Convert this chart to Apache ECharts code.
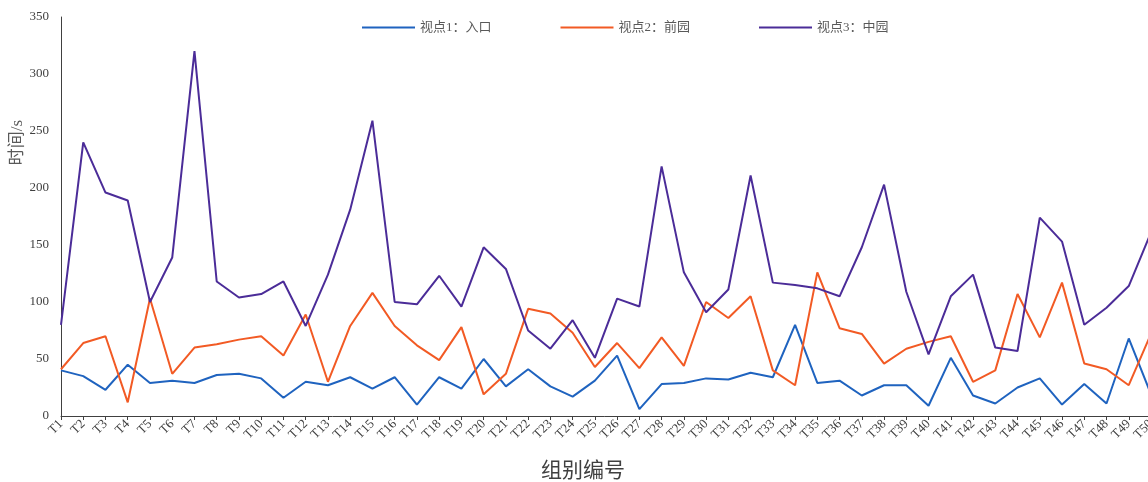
<!DOCTYPE html>
<html>
<head>
<meta charset="utf-8">
<script src="https://cdn.jsdelivr.net/npm/echarts@6/dist/echarts.min.js"></script>
<style>
  html, body { margin: 0; padding: 0; background: #fff; }
  #main { width: 1148px; height: 482px; }
</style>
</head>
<body>
<div id="main"></div>
<script>
// 组别 T1..T50
const groups = ['T1','T2','T3','T4','T5','T6','T7','T8','T9','T10',
  'T11','T12','T13','T14','T15','T16','T17','T18','T19','T20',
  'T21','T22','T23','T24','T25','T26','T27','T28','T29','T30',
  'T31','T32','T33','T34','T35','T36','T37','T38','T39','T40',
  'T41','T42','T43','T44','T45','T46','T47','T48','T49','T50'];

const seriesNames = ['视点1：入口', '视点2：前园', '视点3：中园'];

// 视点1：入口
const entrance = [40, 35, 23, 45, 29, 31, 29, 36, 37, 33,
  16, 30, 27, 34, 24, 34, 10, 34, 24, 50,
  26, 41, 26, 17, 31, 53, 6, 28, 29, 33,
  32, 38, 34, 80, 29, 31, 18, 27, 27, 9,
  51, 18, 11, 25, 33, 10, 28, 11, 68, 19];

// 视点2：前园
const frontGarden = [41, 64, 70, 12, 103, 37, 60, 63, 67, 70,
  53, 89, 30, 79, 108, 79, 62, 49, 78, 19,
  37, 94, 90, 73, 43, 64, 42, 69, 44, 100,
  86, 105, 40, 27, 126, 77, 72, 46, 59, 65,
  70, 30, 40, 107, 69, 117, 46, 41, 27, 72];

// 视点3：中园
const midGarden = [80, 240, 196, 189, 100, 139, 320, 118, 104, 107,
  118, 79, 124, 181, 259, 100, 98, 123, 96, 148,
  129, 75, 59, 84, 51, 103, 96, 219, 126, 91,
  111, 211, 117, 115, 112, 105, 148, 203, 109, 54,
  105, 124, 60, 57, 174, 153, 80, 95, 114, 161];

const yTicks = { min: 0, max: 350, interval: 50 };

const colors = ['#1f63bf', '#f25a24', '#4b2c98'];
const serif = '"Liberation Serif", "Noto Sans CJK SC", serif';

let myChart = echarts.init(document.getElementById('main'));

let option = {
    animation: false,
    color: colors,
    grid: {
        left: 61,
        right: -3,
        top: 17,
        bottom: 66,
        outerBoundsMode: 'none',
        containLabel: false
    },
    legend: {
        left: 357,
        top: 16,
        itemWidth: 53,
        itemHeight: 2,
        itemGap: 69,
        icon: 'rect',
        textStyle: {
            fontFamily: serif,
            fontSize: 13,
            color: '#595959'
        },
        data: seriesNames
    },
    graphic: [
        {
            // y 轴标题
            type: 'text',
            left: 9,
            top: 120,
            rotation: Math.PI / 2,
            style: {
                text: '时间/s',
                fontFamily: serif,
                fontSize: 17,
                fill: '#595959'
            }
        }
    ],
    xAxis: {
        type: 'category',
        data: groups,
        boundaryGap: false,
        name: '组别编号',
        nameLocation: 'middle',
        nameGap: 45,
        nameTextStyle: {
            fontFamily: serif,
            fontSize: 21,
            color: '#404040',
            padding: [0, 46, 0, 0]
        },
        axisLine: {
            lineStyle: { color: '#404040', width: 1 }
        },
        axisTick: {
            show: true,
            alignWithLabel: true,
            length: 4,
            lineStyle: { color: '#404040' }
        },
        axisLabel: {
            interval: 0,
            rotate: 45,
            fontFamily: serif,
            fontSize: 13,
            color: '#404040',
            margin: 6
        },
        splitLine: { show: false }
    },
    yAxis: {
        type: 'value',
        min: yTicks.min,
        max: yTicks.max,
        interval: yTicks.interval,
        axisLine: {
            show: true,
            lineStyle: { color: '#404040', width: 1 }
        },
        axisTick: { show: false },
        axisLabel: {
            fontFamily: serif,
            fontSize: 13,
            color: '#404040',
            margin: 12
        },
        splitLine: { show: false }
    },
    series: [
        {
            name: seriesNames[0],
            type: 'line',
            data: entrance,
            symbol: 'none',
            lineStyle: { width: 2 }
        },
        {
            name: seriesNames[1],
            type: 'line',
            data: frontGarden,
            symbol: 'none',
            lineStyle: { width: 2 }
        },
        {
            name: seriesNames[2],
            type: 'line',
            data: midGarden,
            symbol: 'none',
            lineStyle: { width: 2 }
        }
    ]
};
myChart.setOption(option);
</script>
</body>
</html>
